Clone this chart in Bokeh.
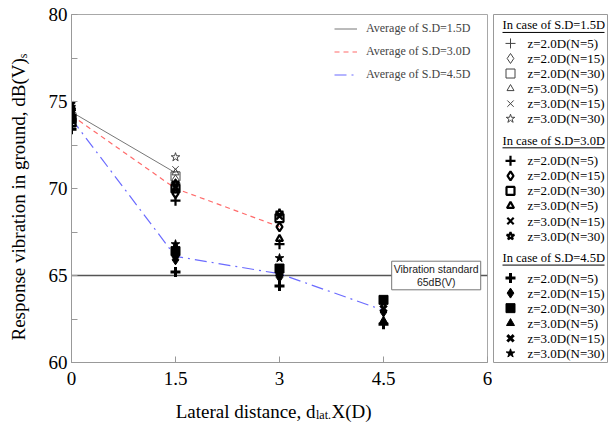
from bokeh.plotting import figure
from bokeh.models import Range1d, Legend, LegendItem, Label, FixedTicker
from bokeh.layouts import row, column
from bokeh.embed import file_html
from bokeh.resources import INLINE
from bokeh.core.properties import value
import math

# ---------------- data ----------------
x_sd15 = [0, 1.5]
x_sd30 = [0, 1.5, 3]
x_sd45 = [0, 1.5, 3, 4.5]

case_labels = ["z=2.0D(N=5)", "z=2.0D(N=15)", "z=2.0D(N=30)",
               "z=3.0D(N=5)", "z=3.0D(N=15)", "z=3.0D(N=30)"]
case_markers = ["cross", "diamond", "square", "triangle", "x", "star"]

# S.D = 1.5D (values at x = 0, 1.5)
sd15_z20_n5 = [74.2, 70.3]
sd15_z20_n15 = [74.5, 70.5]
sd15_z20_n30 = [74.1, 70.7]
sd15_z30_n5 = [74.6, 70.9]
sd15_z30_n15 = [74.4, 71.1]
sd15_z30_n30 = [74.7, 71.8]

# S.D = 3.0D (values at x = 0, 1.5, 3)
sd30_z20_n5 = [73.6, 69.3, 66.8]
sd30_z20_n15 = [74.0, 69.7, 67.8]
sd30_z20_n30 = [73.8, 70.0, 68.3]
sd30_z30_n5 = [74.3, 69.9, 67.1]
sd30_z30_n15 = [74.6, 70.1, 68.4]
sd30_z30_n30 = [74.5, 70.3, 68.6]

# S.D = 4.5D (values at x = 0, 1.5, 3, 4.5)
sd45_z20_n5 = [73.4, 65.2, 64.4, 62.2]
sd45_z20_n15 = [73.9, 65.9, 64.9, 62.9]
sd45_z20_n30 = [74.0, 66.4, 65.4, 63.6]
sd45_z30_n5 = [74.7, 66.6, 65.1, 62.4]
sd45_z30_n15 = [74.8, 66.2, 65.2, 63.1]
sd45_z30_n30 = [74.4, 66.8, 66.0, 63.4]

# averages
avg_sd15 = [74.4, 70.9]
avg_sd30 = [74.2, 70.0, 67.8]
avg_sd45 = [74.0, 66.1, 65.1, 63.0]
avg_labels = ["Average of S.D=1.5D", "Average of S.D=3.0D", "Average of S.D=4.5D"]

standard_level = 65
standard_x = [0, 6]
standard_text = "Vibration standard\n65dB(V)"

group_titles = ["In case of S.D=1.5D", "In case of S.D=3.0D", "In case of S.D=4.5D"]

x_ticks = [0, 1.5, 3, 4.5, 6]
x_tick_labels = ["0", "1.5", "3", "4.5", "6"]
y_ticks = [60, 65, 70, 75, 80]
y_minor = [62.5, 67.5, 72.5, 77.5]

y_title_main, y_title_sub = "Response vibration in ground, dB(V)", "s"
x_title_parts = ["Lateral distance, d", "lat.", "X(D)"]

sd15_vals = [sd15_z20_n5, sd15_z20_n15, sd15_z20_n30, sd15_z30_n5, sd15_z30_n15, sd15_z30_n30]
sd30_vals = [sd30_z20_n5, sd30_z20_n15, sd30_z20_n30, sd30_z30_n5, sd30_z30_n15, sd30_z30_n30]
sd45_vals = [sd45_z20_n5, sd45_z20_n15, sd45_z20_n30, sd45_z30_n5, sd45_z30_n15, sd45_z30_n30]

SERIF = "Liberation Serif"
TOP_H = 398   # height of the upper row of panels


def style(group, marker):
    if group == 0:
        sizes = {"cross": 10, "diamond": 10, "square": 9, "triangle": 7, "x": 9, "star": 9}
        return dict(size=sizes[marker], line_color="#444444", line_width=1, fill_color=None)
    if group == 1:
        sizes = {"cross": 10, "diamond": 9, "square": 8, "triangle": 7, "x": 9, "star": 8}
        return dict(size=sizes[marker], line_color="black", line_width=2.2, fill_color=None)
    sizes = {"cross": 10, "diamond": 10, "square": 9, "triangle": 8, "x": 9, "star": 9}
    lw = 3 if marker in ("cross", "x") else 1
    return dict(size=sizes[marker], line_color="black", line_width=lw, fill_color="black")


def blank(width, height, **kw):
    f = figure(width=width, height=height, output_backend="svg", toolbar_location=None,
               x_axis_location=None, y_axis_location=None, **kw)
    f.xgrid.visible = False
    f.ygrid.visible = False
    f.border_fill_color = "white"
    return f


# ---------------- y title panel ----------------
yl = blank(36, TOP_H, x_range=Range1d(0, 36), y_range=Range1d(TOP_H, 0),
           min_border_left=0, min_border_right=0, min_border_top=0, min_border_bottom=0)
yl.outline_line_color = None
yl.text(x=[18], y=[50], text=[y_title_main], angle=math.pi / 2, text_align="right",
        text_baseline="middle", text_font=value(SERIF), text_font_size="19px", text_color="black")
yl.text(x=[22], y=[50], text=[y_title_sub], angle=math.pi / 2, text_align="left",
        text_baseline="middle", text_font=value(SERIF), text_font_size="12px", text_color="black")

# ---------------- main plot ----------------
p = figure(width=456, height=TOP_H, x_range=Range1d(0, 6), y_range=Range1d(60, 80),
           output_backend="svg", toolbar_location=None,
           min_border_left=35, min_border_right=5, min_border_top=14, min_border_bottom=36)
p.xgrid.visible = False
p.ygrid.visible = False
p.outline_line_color = "#a8a8a8"
p.border_fill_color = "white"

p.xaxis.ticker = FixedTicker(ticks=x_ticks, minor_ticks=[])
p.xaxis.major_label_overrides = {t: l for t, l in zip(x_ticks, x_tick_labels)}
p.yaxis.ticker = FixedTicker(ticks=y_ticks, minor_ticks=y_minor)
for ax in (p.xaxis[0], p.yaxis[0]):
    ax.axis_line_color = "#999999"
    ax.major_tick_line_color = "#999999"
    ax.minor_tick_line_color = "#999999"
    ax.major_tick_in = 6
    ax.major_tick_out = 0
    ax.minor_tick_in = 6
    ax.minor_tick_out = 0
    ax.major_label_text_font = SERIF
    ax.major_label_text_font_size = "19px"
    ax.major_label_text_color = "black"
p.xaxis.major_label_standoff = 9
p.yaxis.major_label_standoff = 4

p.line(standard_x, [standard_level] * len(standard_x), line_color="#555555", line_width=1.6)
p.add_layout(Label(x=5.26, y=standard_level, text=standard_text, text_align="center",
                   text_baseline="middle", text_font="Liberation Sans", text_font_size="10.5px",
                   text_color="#222222", text_line_height=1.05, border_line_color="#777777",
                   border_line_width=1, background_fill_color="white", padding=2))

r15 = p.line(x_sd15, avg_sd15, line_color="#777777", line_width=1)
r30 = p.line(x_sd30, avg_sd30, line_color="#ff6b6b", line_width=1.2, line_dash="5 4")
r45 = p.line(x_sd45, avg_sd45, line_color="#6b6bff", line_width=1.2, line_dash="12 5 2 5")

for g, (xs, vals) in enumerate([(x_sd15, sd15_vals), (x_sd30, sd30_vals), (x_sd45, sd45_vals)]):
    for m, v in zip(case_markers, vals):
        p.scatter(x=xs, y=v, marker=m, **style(g, m))

leg = Legend(items=[LegendItem(label=l, renderers=[r]) for l, r in zip(avg_labels, [r15, r30, r45])],
             location=(263, 280), border_line_color=None, background_fill_alpha=0,
             label_text_font=SERIF, label_text_font_size="12px", glyph_width=23,
             glyph_height=15, label_height=15, spacing=8, padding=0, margin=0,
             label_standoff=9)
p.add_layout(leg)

# ---------------- marker legend panel ----------------
LW, LH = 114, 349
lg = blank(119, TOP_H, x_range=Range1d(0, LW), y_range=Range1d(LH, 0),
           min_border_left=1, min_border_right=4, min_border_top=14, min_border_bottom=35)
lg.outline_line_color = "#999999"

header_y = [11, 126.7, 244.3]
row0_y = [29, 146.7, 264.3]
row_step = 15.1
for g in range(3):
    lg.text(x=[9], y=[header_y[g]], text=[group_titles[g]], text_font=value(SERIF),
            text_font_size="12.5px", text_baseline="middle", text_align="left", text_color="black")
    lg.segment(x0=[9], y0=[header_y[g] + 7], x1=[111], y1=[header_y[g] + 7],
               line_color="black", line_width=1)
    ys = [row0_y[g] + row_step * i for i in range(6)]
    for i, m in enumerate(case_markers):
        lg.scatter(x=[17], y=[ys[i]], marker=m, **style(g, m))
    lg.text(x=[34] * 6, y=ys, text=case_labels, text_font=value(SERIF),
            text_font_size="13px", text_baseline="middle", text_align="left", text_color="black")

# ---------------- x title panel ----------------
xl = blank(611, 25, x_range=Range1d(0, 611), y_range=Range1d(25, 0),
           min_border_left=0, min_border_right=0, min_border_top=0, min_border_bottom=0)
xl.outline_line_color = None
xl.text(x=[315], y=[13], text=[x_title_parts[0]], text_align="right", text_baseline="middle",
        text_font=value(SERIF), text_font_size="19px", text_color="black")
xl.text(x=[315.5], y=[16], text=[x_title_parts[1]], text_align="left", text_baseline="middle",
        text_font=value(SERIF), text_font_size="12px", text_color="black")
xl.text(x=[331], y=[13], text=[x_title_parts[2]], text_align="left", text_baseline="middle",
        text_font=value(SERIF), text_font_size="19px", text_color="black")

layout = column(row(yl, p, lg), xl)
open("out.html", "w").write(file_html(layout, INLINE))
